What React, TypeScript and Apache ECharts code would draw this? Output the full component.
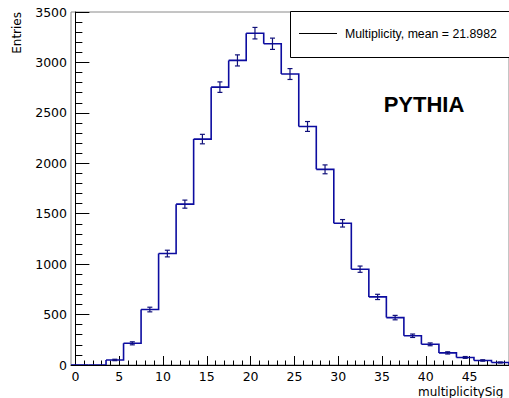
import React, { useEffect, useRef } from "react";
import * as echarts from "echarts";

// Histogram binning: 25 bins of width 2 from -0.5 to 49.5
const BIN_EDGES = [
  -0.5, 1.5, 3.5, 5.5, 7.5, 9.5, 11.5, 13.5, 15.5, 17.5, 19.5, 21.5, 23.5,
  25.5, 27.5, 29.5, 31.5, 33.5, 35.5, 37.5, 39.5, 41.5, 43.5, 45.5, 47.5, 49.5,
];
const COUNTS = [
  0, 0, 50, 215, 550, 1105, 1595, 2240, 2755, 3020, 3290, 3185, 2885, 2365,
  1940, 1405, 950, 675, 470, 290, 205, 120, 75, 45, 25,
];
const ERRORS = [
  0, 0, 7, 15, 23, 33, 40, 47, 52, 55, 57, 56, 54, 49, 44, 37, 31, 26, 22, 17,
  14, 11, 9, 7, 5,
];

const X_MAJOR_TICKS = [0, 5, 10, 15, 20, 25, 30, 35, 40, 45];
const X_MINOR_TICKS = [
  0, 1, 2, 3, 4, 5, 6, 7, 8, 9, 10, 11, 12, 13, 14, 15, 16, 17, 18, 19, 20, 21,
  22, 23, 24, 25, 26, 27, 28, 29, 30, 31, 32, 33, 34, 35, 36, 37, 38, 39, 40,
  41, 42, 43, 44, 45, 46, 47, 48, 49,
];

const LEGEND_TEXT = "Multiplicity, mean = 21.8982";
const GENERATOR_TEXT = "PYTHIA";
const X_TITLE = "multiplicitySig";
const Y_TITLE = "Entries";

const HIST_COLOR = "#0c0ca0";
const ERR_COLOR = "#10107a";
const AXIS_FONT = "DejaVu Sans";

export default function App() {
  const ref = useRef<HTMLDivElement>(null);

  useEffect(() => {
    if (!ref.current) return;
    const chart = echarts.init(ref.current, null, { renderer: "svg" });

    const data = COUNTS.map((c, i) => [
      (BIN_EDGES[i] + BIN_EDGES[i + 1]) / 2,
      c,
      ERRORS[i],
    ]);

    const renderItem = (params: any, api: any) => {
      const i = params.dataIndex;
      const center = api.value(0);
      const v = api.value(1);
      const e = api.value(2);
      const lo = BIN_EDGES[i];
      const hi = BIN_EDGES[i + 1];
      const next = i + 1 < COUNTS.length ? COUNTS[i + 1] : 0;

      const pA = api.coord([lo, v]);
      const pB = api.coord([hi, v]);
      const pC = api.coord([hi, next]);
      const children: any[] = [
        {
          type: "polyline",
          shape: { points: [pA, pB, pC] },
          style: { stroke: HIST_COLOR, lineWidth: 1.6, fill: "none" },
        },
      ];
      if (i === 0) {
        const p0 = api.coord([lo, 0]);
        children.push({
          type: "line",
          shape: { x1: p0[0], y1: p0[1], x2: pA[0], y2: pA[1] },
          style: { stroke: HIST_COLOR, lineWidth: 1.6 },
        });
      }
      if (e > 0) {
        const top = api.coord([center, v + e]);
        const bot = api.coord([center, v - e]);
        const cap = 2.5;
        children.push(
          {
            type: "line",
            shape: { x1: top[0], y1: top[1], x2: bot[0], y2: bot[1] },
            style: { stroke: ERR_COLOR, lineWidth: 1.2 },
          },
          {
            type: "line",
            shape: { x1: top[0] - cap, y1: top[1], x2: top[0] + cap, y2: top[1] },
            style: { stroke: ERR_COLOR, lineWidth: 1.2 },
          },
          {
            type: "line",
            shape: { x1: bot[0] - cap, y1: bot[1], x2: bot[0] + cap, y2: bot[1] },
            style: { stroke: ERR_COLOR, lineWidth: 1.2 },
          }
        );
      }
      return { type: "group", children };
    };

    const baseX = {
      type: "value",
      min: BIN_EDGES[0],
      max: BIN_EDGES[BIN_EDGES.length - 1],
      position: "bottom",
      splitLine: { show: false },
    };

    chart.setOption({
      animation: false,
      backgroundColor: "#ffffff",
      grid: {
        left: 71,
        right: -2,
        top: 12,
        bottom: 33,
        show: true,
        borderColor: "#8a8a8a",
        borderWidth: 1,
        backgroundColor: "transparent",
      },
      xAxis: [
        {
          ...baseX,
          axisLine: { show: true, lineStyle: { color: "#000", width: 1 } },
          axisTick: {
            show: true,
            inside: true,
            length: 4.5,
            customValues: X_MINOR_TICKS,
            lineStyle: { color: "#000", width: 1 },
          },
          axisLabel: { show: false },
        },
        {
          ...baseX,
          axisLine: { show: false },
          axisTick: {
            show: true,
            inside: true,
            length: 9,
            customValues: X_MAJOR_TICKS,
            lineStyle: { color: "#000", width: 1 },
          },
          axisLabel: {
            show: true,
            customValues: X_MAJOR_TICKS,
            margin: 5,
            fontFamily: AXIS_FONT,
            fontSize: 12.5,
            color: "#000",
          },
        },
      ],
      yAxis: {
        type: "value",
        min: 0,
        max: 3500,
        interval: 500,
        splitLine: { show: false },
        axisLine: { show: true, lineStyle: { color: "#000", width: 1 } },
        axisTick: {
          show: true,
          inside: true,
          length: 14,
          lineStyle: { color: "#000", width: 1 },
        },
        minorTick: {
          show: true,
          splitNumber: 5,
          length: 7,
          lineStyle: { color: "#000", width: 1 },
        },
        axisLabel: {
          margin: 4,
          fontFamily: AXIS_FONT,
          fontSize: 12.5,
          color: "#000",
          formatter: (v: number) => String(v),
        },
      },
      series: [
        {
          name: "Multiplicity",
          type: "custom",
          xAxisIndex: 0,
          yAxisIndex: 0,
          renderItem,
          data,
          encode: { x: 0, y: 1 },
          clip: true,
          z: 3,
        },
      ],
      graphic: [
        {
          type: "text",
          x: 16.5,
          y: 12,
          rotation: Math.PI / 2,
          style: {
            text: Y_TITLE,
            align: "right",
            verticalAlign: "middle",
            fontFamily: AXIS_FONT,
            fontSize: 12,
            fill: "#000",
          },
        },
        {
          type: "text",
          x: 418,
          y: 391.5,
          style: {
            text: X_TITLE,
            align: "left",
            verticalAlign: "middle",
            fontFamily: AXIS_FONT,
            fontSize: 12,
            fill: "#000",
          },
        },
        {
          type: "rect",
          shape: { x: 290.5, y: 11.5, width: 230, height: 46 },
          style: { fill: "#ffffff", stroke: "#000", lineWidth: 1 },
          z: 10,
        },
        {
          type: "line",
          shape: { x1: 299, y1: 33.5, x2: 337, y2: 33.5 },
          style: { stroke: "#000", lineWidth: 1 },
          z: 11,
        },
        {
          type: "text",
          x: 345,
          y: 33.5,
          style: {
            text: LEGEND_TEXT,
            align: "left",
            verticalAlign: "middle",
            fontFamily: "Liberation Sans",
            fontSize: 12.3,
            fill: "#000",
          },
          z: 11,
        },
        {
          type: "text",
          x: 424,
          y: 104.5,
          style: {
            text: GENERATOR_TEXT,
            align: "center",
            verticalAlign: "middle",
            fontFamily: "Liberation Sans",
            fontWeight: "bold",
            fontSize: 22,
            fill: "#000",
          },
          z: 11,
        },
      ],
    });

    return () => chart.dispose();
  }, []);

  return (
    <div
      ref={ref}
      style={{ position: "fixed", left: 0, top: 0, width: 509, height: 398, background: "#fff" }}
    />
  );
}
